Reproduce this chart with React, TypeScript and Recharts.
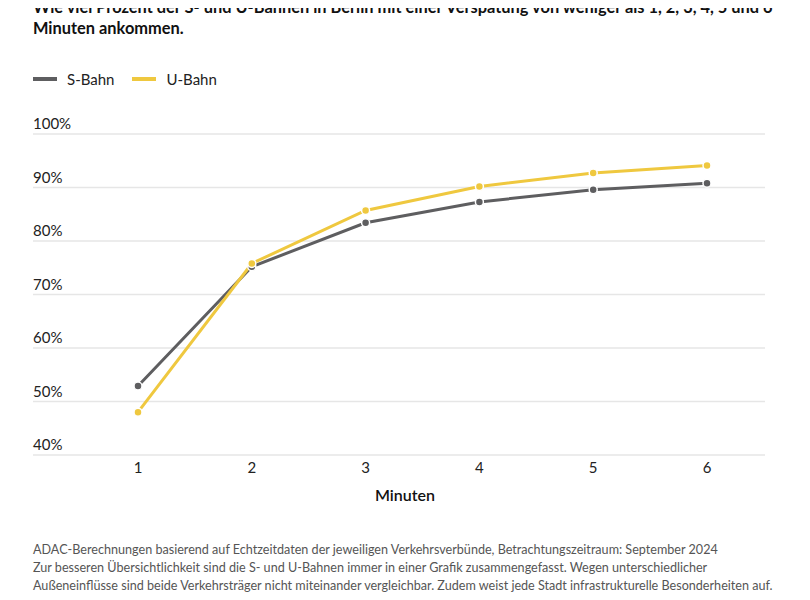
import React from "react";
import { LineChart, Line, XAxis, YAxis, CartesianGrid } from "recharts";

const minutes = ["1", "2", "3", "4", "5", "6"];
const sBahn = [52.9, 75.2, 83.4, 87.3, 89.6, 90.8];
const uBahn = [48.0, 75.8, 85.7, 90.2, 92.7, 94.1];
const yTicks = [40, 50, 60, 70, 80, 90, 100];
const seriesNames = ["S-Bahn", "U-Bahn"];

const data = minutes.map((m, i) => ({ min: m, s: sBahn[i], u: uBahn[i] }));

const FONT = "Lato, 'Open Sans', sans-serif";
const S_COLOR = "#5e5e60";
const U_COLOR = "#efc83f";
const colors = [S_COLOR, U_COLOR];

export default function App() {
  return (
    <div style={{ position: "relative", width: 810, height: 600, margin: -8, background: "#fff", overflow: "hidden", fontFamily: FONT }}>
      <div style={{ position: "absolute", left: 33, top: -3, width: 780, fontSize: 16.4, fontWeight: 700, lineHeight: "20.5px", color: "#111", whiteSpace: "nowrap" }}>
        Wie viel Prozent der S- und U-Bahnen in Berlin mit einer Verspätung von weniger als 1, 2, 3, 4, 5 und 6
        <br />
        Minuten ankommen.
      </div>
      <div style={{ position: "absolute", left: 33, top: 70, display: "flex", alignItems: "center", fontSize: 15, color: "#222" }}>
        {seriesNames.map((n, i) => (
          <div key={n} style={{ display: "flex", alignItems: "center", marginRight: 18 }}>
            <span style={{ display: "inline-block", width: 24, height: 4, background: colors[i], marginRight: 10 }} />
            <span>{n}</span>
          </div>
        ))}
      </div>
      <div style={{ position: "absolute", left: 0, top: 0 }}>
        <LineChart width={810} height={600} data={data} margin={{ top: 134, left: 33, right: 45, bottom: 115 }}>
          <CartesianGrid horizontal vertical={false} stroke="#e6e6e6" strokeWidth={1.5} />
          <XAxis
            dataKey="min"
            height={30}
            padding={{ left: 105, right: 58 }}
            tickLine={false}
            axisLine={false}
            tickSize={0}
            tickMargin={7}
            tick={{ fontSize: 15, fill: "#222", fontFamily: FONT }}
          />
          <YAxis
            width={1}
            mirror
            domain={[40, 100]}
            ticks={yTicks}
            interval={0}
            tickLine={false}
            axisLine={false}
            tickSize={0}
            tickMargin={0}
            tickFormatter={(v: number) => `${v}%`}
            tick={{ fontSize: 15, fill: "#222", fontFamily: FONT, dy: -10, textAnchor: "start" }}
          />
          <Line
            type="linear"
            dataKey="s"
            name={seriesNames[0]}
            stroke={S_COLOR}
            strokeWidth={3}
            dot={{ r: 4, fill: S_COLOR, stroke: "#fff", strokeWidth: 1.5 }}
            isAnimationActive={false}
          />
          <Line
            type="linear"
            dataKey="u"
            name={seriesNames[1]}
            stroke={U_COLOR}
            strokeWidth={3}
            dot={{ r: 4, fill: U_COLOR, stroke: "#fff", strokeWidth: 1.5 }}
            isAnimationActive={false}
          />
        </LineChart>
      </div>
      <div style={{ position: "absolute", left: 0, width: 810, top: 485, textAlign: "center", fontSize: 16, fontWeight: 600, color: "#111" }}>
        Minuten
      </div>
      <div style={{ position: "absolute", left: 33, top: 541, width: 780, fontSize: 12.6, lineHeight: "18px", color: "#555", whiteSpace: "nowrap" }}>
        ADAC-Berechnungen basierend auf Echtzeitdaten der jeweiligen Verkehrsverbünde, Betrachtungszeitraum: September 2024
        <br />
        Zur besseren Übersichtlichkeit sind die S- und U-Bahnen immer in einer Grafik zusammengefasst. Wegen unterschiedlicher
        <br />
        Außeneinflüsse sind beide Verkehrsträger nicht miteinander vergleichbar. Zudem weist jede Stadt infrastrukturelle Besonderheiten auf.
      </div>
    </div>
  );
}
